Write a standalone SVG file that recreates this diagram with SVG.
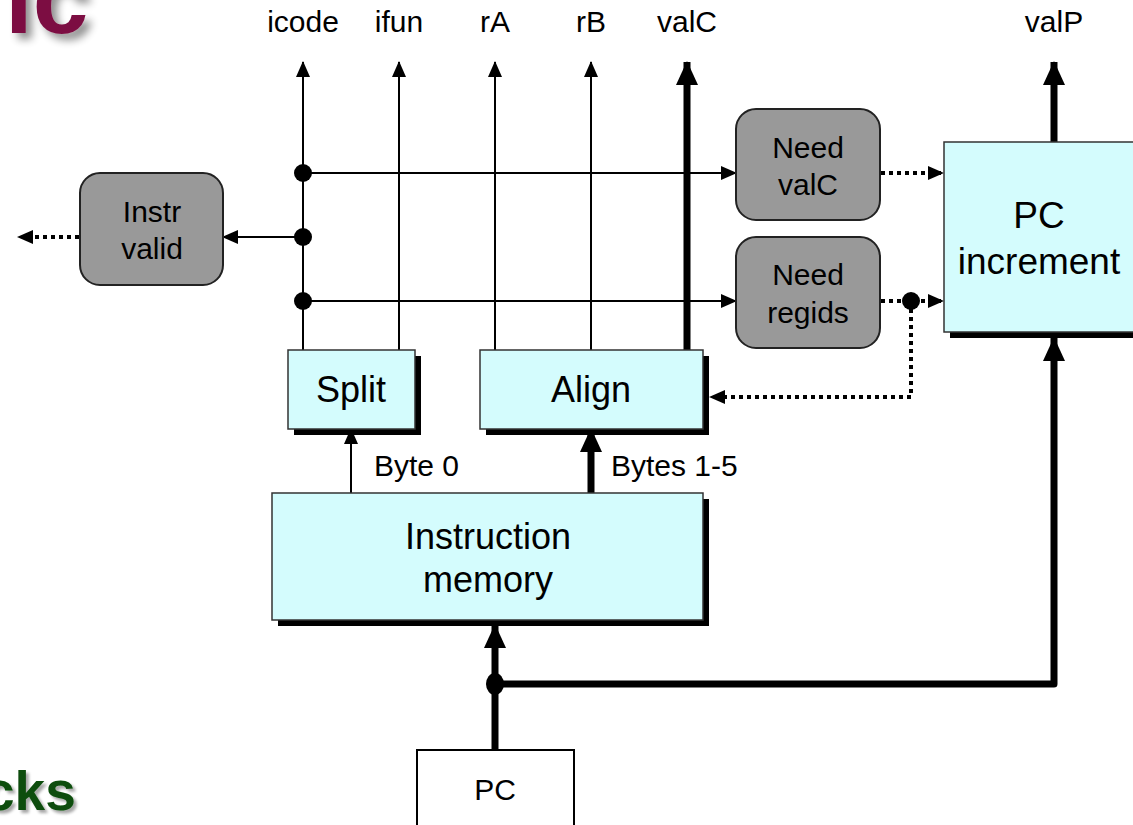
<svg xmlns="http://www.w3.org/2000/svg" width="1133" height="825" viewBox="0 0 1133 825">
<defs>
<style>
text{font-family:"Liberation Sans",Arial,sans-serif;fill:#000;text-anchor:middle}
.lbl{font-size:30px}
.big{font-size:36px}
.box{fill:#D4FCFD;stroke:#333;stroke-width:1.5}
.shd{fill:#000}
.ctl{fill:#999;stroke:#222;stroke-width:2}
.thin{fill:none;stroke:#000;stroke-width:2}
.thick{fill:none;stroke:#000;stroke-width:7}
.dot{fill:none;stroke:#000;stroke-width:4;stroke-dasharray:4 4}
</style>
<marker id="ah" markerUnits="userSpaceOnUse" markerWidth="16" markerHeight="14" refX="15" refY="7" orient="auto"><path d="M0,0 L16,7 L0,14 z" fill="#000"/></marker>
<marker id="ahT" markerUnits="userSpaceOnUse" markerWidth="24" markerHeight="22" refX="23" refY="11" orient="auto"><path d="M0,0 L24,11 L0,22 z" fill="#000"/></marker>
<filter id="sh1" x="-30%" y="-30%" width="160%" height="160%">
<feGaussianBlur in="SourceAlpha" stdDeviation="4" result="b"/>
<feOffset in="b" dx="6" dy="6" result="o"/>
<feComponentTransfer in="o" result="g"><feFuncA type="linear" slope="0.45"/></feComponentTransfer>
<feMerge><feMergeNode in="g"/><feMergeNode in="SourceGraphic"/></feMerge>
</filter>
<filter id="sh2" x="-30%" y="-30%" width="160%" height="160%">
<feGaussianBlur in="SourceAlpha" stdDeviation="1.5" result="b"/>
<feOffset in="b" dx="3" dy="3" result="o"/>
<feComponentTransfer in="o" result="g"><feFuncA type="linear" slope="0.35"/></feComponentTransfer>
<feMerge><feMergeNode in="g"/><feMergeNode in="SourceGraphic"/></feMerge>
</filter>
</defs>

<g id="title-fragments">
<text x="5" y="33" font-size="100" font-weight="bold" style="text-anchor:start;fill:#7B1042" filter="url(#sh1)">ic</text>
<text x="-16" y="810" font-size="55" font-weight="bold" style="text-anchor:start;fill:#0B4D0B" filter="url(#sh2)">cks</text>
</g>

<g id="labels">
<text class="lbl" x="303" y="32">icode</text>
<text class="lbl" x="399" y="32">ifun</text>
<text class="lbl" x="495" y="32">rA</text>
<text class="lbl" x="591" y="32">rB</text>
<text class="lbl" x="687" y="32">valC</text>
<text class="lbl" x="1054" y="32">valP</text>
<text class="lbl" x="374" y="476" style="text-anchor:start">Byte 0</text>
<text class="lbl" x="611" y="476" style="text-anchor:start">Bytes 1-5</text>
</g>

<g id="connectors">
<line class="thin" x1="303" y1="350" x2="303" y2="62" marker-end="url(#ah)"/>
<line class="thin" x1="399" y1="350" x2="399" y2="62" marker-end="url(#ah)"/>
<line class="thin" x1="495" y1="350" x2="495" y2="62" marker-end="url(#ah)"/>
<line class="thin" x1="591" y1="350" x2="591" y2="62" marker-end="url(#ah)"/>
<line class="thick" x1="687" y1="350" x2="687" y2="62" marker-end="url(#ahT)"/>
<line class="thick" x1="1054" y1="142" x2="1054" y2="62" marker-end="url(#ahT)"/>
<line class="thin" x1="303" y1="173" x2="736" y2="173" marker-end="url(#ah)"/>
<line class="thin" x1="303" y1="237" x2="223" y2="237" marker-end="url(#ah)"/>
<line class="thin" x1="303" y1="301" x2="736" y2="301" marker-end="url(#ah)"/>
<circle cx="303" cy="173" r="9" fill="#000"/>
<circle cx="303" cy="237" r="9" fill="#000"/>
<circle cx="303" cy="301" r="9" fill="#000"/>
<line class="dot" x1="881" y1="173" x2="944" y2="173"/>
<path d="M928,166 L944,173 L928,180 z" fill="#000"/>
<line class="dot" x1="881" y1="301" x2="944" y2="301"/>
<path d="M928,294 L944,301 L928,308 z" fill="#000"/>
<polyline class="dot" points="911,301 911,397 712,397"/>
<path d="M725,390 L709,397 L725,404 z" fill="#000"/>
<circle cx="911" cy="301" r="9" fill="#000"/>
<line class="dot" x1="79" y1="237" x2="22" y2="237"/>
<path d="M33,230 L17,237 L33,244 z" fill="#000"/>
<line class="thin" x1="351" y1="493" x2="351" y2="429" marker-end="url(#ah)"/>
<line class="thick" x1="591" y1="493" x2="591" y2="429" marker-end="url(#ahT)"/>
<line class="thick" x1="495" y1="750" x2="495" y2="625" marker-end="url(#ahT)"/>
<polyline class="thick" points="495,684 1054,684 1054,338" marker-end="url(#ahT)" style="stroke-linejoin:round"/>
<ellipse cx="495" cy="684" rx="9" ry="11" fill="#000"/>
</g>

<g id="split">
<rect class="shd" x="294" y="356" width="127" height="79"/>
<rect class="box" x="288" y="350" width="127" height="79"/>
<text class="big" x="351" y="402">Split</text>
</g>

<g id="align">
<rect class="shd" x="486" y="356" width="223" height="79"/>
<rect class="box" x="480" y="350" width="223" height="79"/>
<text class="big" x="591" y="402">Align</text>
</g>

<g id="instruction-memory">
<rect class="shd" x="278" y="499" width="431" height="127"/>
<rect class="box" x="272" y="493" width="431" height="127"/>
<text class="big" x="488" y="549">Instruction</text>
<text class="big" x="488" y="592">memory</text>
</g>

<g id="pc-increment">
<rect class="shd" x="950" y="148" width="190" height="190"/>
<rect class="box" x="944" y="142" width="190" height="190"/>
<text x="1039" y="228" font-size="37">PC</text>
<text x="1039" y="274" font-size="37">increment</text>
</g>

<g id="need-valc">
<rect class="ctl" x="736" y="109" width="144" height="111" rx="20"/>
<text class="lbl" x="808" y="158">Need</text>
<text class="lbl" x="808" y="195">valC</text>
</g>

<g id="need-regids">
<rect class="ctl" x="736" y="237" width="144" height="111" rx="20"/>
<text class="lbl" x="808" y="285">Need</text>
<text class="lbl" x="808" y="323">regids</text>
</g>

<g id="instr-valid">
<rect class="ctl" x="80" y="173" width="143" height="112" rx="20"/>
<text class="lbl" x="152" y="222">Instr</text>
<text class="lbl" x="152" y="259">valid</text>
</g>

<g id="pc">
<rect x="417" y="750" width="157" height="90" fill="#fff" stroke="#000" stroke-width="2"/>
<text class="lbl" x="495" y="800">PC</text>
</g>
</svg>
